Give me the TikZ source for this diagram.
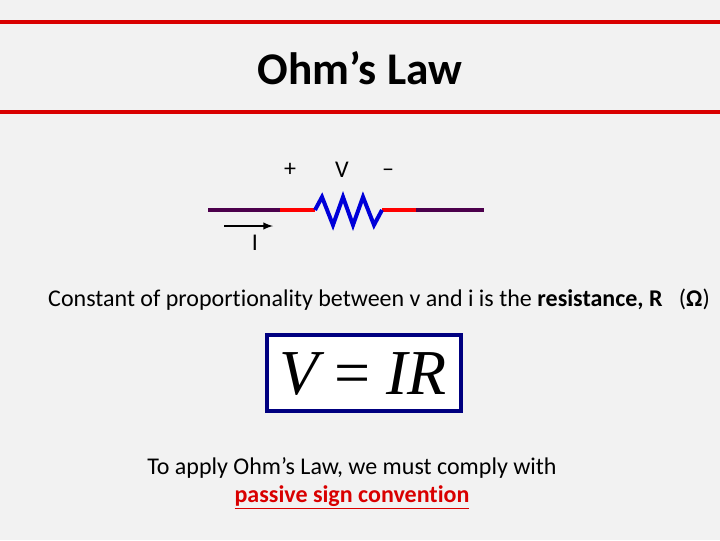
\documentclass[tikz,border=0pt]{standalone}
\usepackage{fontspec}
\setmainfont{Carlito}[Ligatures=NoCommon]
\newfontfamily\eqfont{Liberation Serif}
\begin{document}
\begin{tikzpicture}[x=0.75pt,y=-0.75pt,
  lbl/.style={inner sep=0pt,anchor=center},
  redline/.style={draw=red!85!black,line width=3.5pt}]
\fill[gray!10] (0,0) rectangle (720,540);
\useasboundingbox (0,0) rectangle (720,540);
\draw[redline] (0,22) -- (720,22);
\draw[redline] (0,112) -- (720,112);
\node[lbl] (title) at (360,68) {\fontsize{34}{38}\selectfont\bfseries Ohm’s Law};
\node[lbl] (plus) at (290,170) {\fontsize{18}{20}\selectfont +};
\node[lbl] (V) at (342,170) {\fontsize{18}{20}\selectfont V};
\node[lbl] (minus) at (388,173) {\fontsize{18}{20}\selectfont –};
\coordinate (w1) at (208,210);
\coordinate (w2) at (280,210);
\coordinate (r1) at (315,210);
\coordinate (r2) at (382,210);
\coordinate (w3) at (416,210);
\coordinate (w4) at (484,210);
\draw[line width=3pt,draw=violet!60!black] (w1) -- (w2) (w3) -- (w4);
\draw[line width=3pt,red] (w2) -- (r1) (r2) -- (w3);
\draw[line width=3pt,blue!85!black,line join=miter] (r1) -- (322,197) -- (333,225) -- (343,197) -- (353,225) -- (363,197) -- (374,225) -- (r2);
\coordinate (a1) at (224,226);
\coordinate (a2) at (273,226);
\draw[line width=1.5pt,-latex] (a1) -- (a2);
\node[lbl] (I) at (255,243) {\fontsize{18}{20}\selectfont I};
\node[lbl] (const) at (379,300) {\fontsize{18}{20}\selectfont Constant of proportionality between v and i is the \textbf{resistance, R} \ \ (\textbf{Ω})};
\draw[draw=blue!50!black,line width=3.5pt,fill=white] (267,335) rectangle (461,411);
\node[lbl] (eq) at (363,374) {\fontsize{48}{52}\selectfont\eqfont\itshape V\hspace{0.25em}{\upshape =}\hspace{0.25em}IR};
\node[lbl] (t1) at (352,468) {\fontsize{18}{20}\selectfont To apply Ohm’s Law, we must comply with};
\node[lbl] (t2) at (352,497) {\fontsize{18}{20}\selectfont\bfseries\color{red!85!black} \underline{passive sign convention}};
\end{tikzpicture}
\end{document}
